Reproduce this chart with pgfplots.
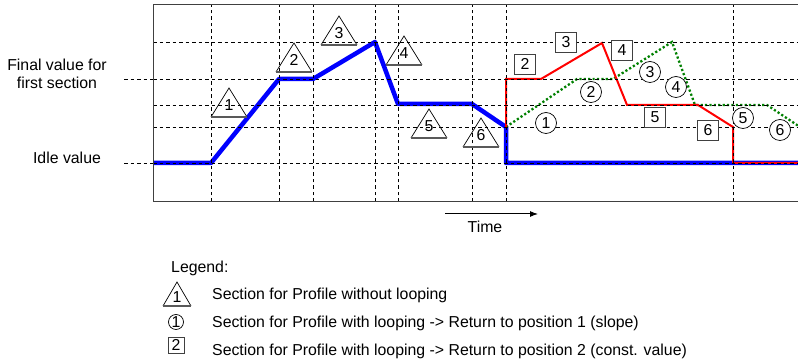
\documentclass[border=0pt]{standalone}
\usepackage{pgfplots}
\pgfplotsset{compat=1.18}
\usepackage{fontspec}
\setmainfont{Liberation Sans}
\usetikzlibrary{arrows.meta}
\definecolor{dgreen}{RGB}{0,128,0}
\newcommand{\tri}[3]{\draw[line width=0.7bp] (#1-18,#2+29) -- (#1,#2) -- (#1+18,#2+29); \draw[black!65, line width=1.2bp] (#1-18,#2+29) -- (#1+18,#2+29); \node at (#1,#2+17) {#3};}
\newcommand{\cir}[3]{\node[draw, fill=white, circle, line width=0.7bp, minimum size=21bp] at (#1,#2) {#3};}
\newcommand{\sq}[3]{\node[draw=black!75, fill=white, line width=0.8bp, minimum width=21bp, minimum height=20bp] at (#1,#2) {#3};}
\begin{document}
\begin{tikzpicture}[every node/.style={font=\fontsize{15.9}{18}\selectfont, inner sep=0pt}]
\useasboundingbox (0,0) rectangle (798bp,362bp);
\begin{axis}[at={(153bp,160bp)}, anchor=south west, scale only axis,
  width=647bp, height=197bp,
  xmin=153, xmax=800, ymin=0, ymax=197,
  xtick={211,279,313,375,398,472,506,733},
  ytick={39,75,97,123,160},
  xticklabels={}, yticklabels={},
  major tick length=0pt,
  grid=major,
  grid style={black, line width=0.6bp, dash pattern=on 3.5bp off 3bp},
  axis line style={black!75, line width=1bp},
  axis on top]
\addplot[blue, line width=4.5bp, line join=round] coordinates {
(153,39) (211,39) (279,123) (313,123) (375,160) (398,98) (472,98) (506,75) (506,39) (800,39)};
\addplot[dgreen, line width=2.3bp, dash pattern=on 2.2bp off 2.2bp] coordinates {
(506,75) (577,123) (613,123) (672,160) (695,97) (767,97) (800,75)};
\addplot[red, line width=2bp] coordinates {
(506,75) (506,123) (541,123) (602,159) (627,97) (698,97) (733,75) (733,39) (800,39)};
\end{axis}
\begin{scope}[x=1bp,y=-1bp,shift={(0,362bp)}]
% left labels
\draw[black, line width=0.6bp, dash pattern=on 3.5bp off 3bp] (124,79) -- (153,79);
\draw[black, line width=0.6bp, dash pattern=on 3.5bp off 3bp] (124,163) -- (153,163);
\node[align=center] at (57,74) {Final value for\\first section};
\node at (67,158) {Idle value};
% triangles
\tri{229}{88}{1}
\tri{294}{43}{2}
\tri{339}{16}{3}
\tri{404}{36}{4}
\tri{429}{109}{5}
\tri{481}{118}{6}
% squares
\sq{525}{64}{2}
\sq{566}{42}{3}
\sq{622}{50}{4}
\sq{655}{117}{5}
\sq{708}{130}{6}
% circles
\cir{546}{123}{1}
\cir{591}{92}{2}
\cir{650}{72}{3}
\cir{676}{87}{4}
\cir{743}{118}{5}
\cir{780}{130}{6}
% time arrow
\draw[-{Latex[length=8bp,width=6bp]}, line width=1bp] (445,214) -- (538,214);
\node at (485,227) {Time};
% legend
\node[anchor=west] at (171,268) {Legend:};
\draw[line width=0.7bp] (163,306) -- (177,282) -- (191,306);
\draw[black!65, line width=1.2bp] (163,306) -- (191,306);
\node at (177,297) {1};
\node[draw, circle, line width=0.7bp, minimum size=15bp] at (176,322) {1};
\node[draw=black!75, line width=0.8bp, minimum width=16bp, minimum height=16bp] at (176,345) {2};
\node[anchor=west] at (212,295) {Section for Profile without looping};
\node[anchor=west] at (212,323) {Section for Profile with looping -> Return to position 1 (slope)};
\node[anchor=west] at (212,351) {Section for Profile with looping -> Return to position 2 (const. value)};
\end{scope}
\end{tikzpicture}
\end{document}
